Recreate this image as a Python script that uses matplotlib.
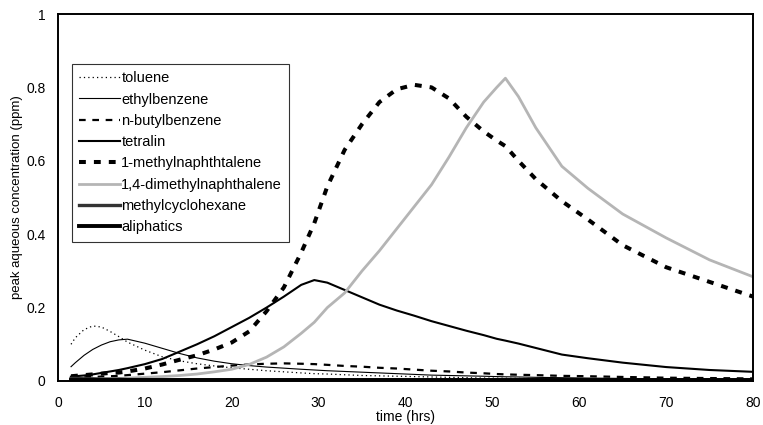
import matplotlib
matplotlib.use("Agg")
import matplotlib.pyplot as plt

plt.rcParams['font.family'] = ['Liberation Sans', 'DejaVu Sans']

time_hrs = [1.5, 2, 3, 4, 5, 6, 7, 8, 10, 12, 14, 16, 18, 20, 22, 24, 26, 28, 29.5, 31,
            33, 35, 37, 39, 41, 43, 45, 47, 49, 50.5, 51.5, 53, 55, 58, 61, 65, 70, 75, 80]

toluene = [0.100, 0.118, 0.140, 0.150, 0.147, 0.135, 0.121, 0.106, 0.084, 0.066,
           0.055, 0.047, 0.041, 0.036, 0.032, 0.028, 0.025, 0.022, 0.020, 0.019,
           0.017, 0.015, 0.014, 0.013, 0.012, 0.011, 0.010, 0.009, 0.008, 0.0078,
           0.0075, 0.007, 0.0065, 0.006, 0.0055, 0.005, 0.0045, 0.004, 0.0035]
ethylbenzene = [0.039, 0.050, 0.070, 0.086, 0.098, 0.107, 0.112, 0.114, 0.103, 0.089,
                0.075, 0.063, 0.054, 0.047, 0.042, 0.038, 0.035, 0.032, 0.030, 0.028,
                0.026, 0.024, 0.022, 0.020, 0.018, 0.016, 0.015, 0.014, 0.013, 0.012,
                0.0115, 0.011, 0.010, 0.009, 0.008, 0.007, 0.006, 0.005, 0.0045]
n_butylbenzene = [0.008, 0.009, 0.010, 0.011, 0.012, 0.013, 0.014, 0.016, 0.020, 0.024,
                  0.029, 0.034, 0.038, 0.042, 0.045, 0.047, 0.048, 0.047, 0.046, 0.044,
                  0.041, 0.039, 0.036, 0.034, 0.031, 0.028, 0.026, 0.023, 0.021, 0.019,
                  0.018, 0.017, 0.016, 0.014, 0.013, 0.011, 0.009, 0.008, 0.007]
tetralin = [0.012, 0.013, 0.015, 0.018, 0.022, 0.026, 0.030, 0.035, 0.046, 0.060,
            0.080, 0.100, 0.122, 0.147, 0.172, 0.200, 0.230, 0.262, 0.275, 0.268,
            0.248, 0.228, 0.208, 0.192, 0.178, 0.163, 0.150, 0.137, 0.125, 0.115,
            0.110, 0.102, 0.090, 0.072, 0.062, 0.050, 0.038, 0.030, 0.025]
methylnaphthalene = [0.013, 0.014, 0.016, 0.018, 0.020, 0.022, 0.023, 0.026, 0.034, 0.045,
                     0.058, 0.070, 0.086, 0.105, 0.135, 0.190, 0.255, 0.350, 0.430, 0.530,
                     0.630, 0.700, 0.760, 0.795, 0.807, 0.800, 0.770, 0.720, 0.680, 0.655,
                     0.640, 0.600, 0.550, 0.490, 0.440, 0.370, 0.310, 0.270, 0.230]
dimethylnaphthalene = [0.004, 0.004, 0.005, 0.005, 0.006, 0.006, 0.007, 0.008, 0.010, 0.012,
                       0.015, 0.019, 0.025, 0.032, 0.045, 0.065, 0.093, 0.130, 0.160, 0.200,
                       0.240, 0.300, 0.355, 0.415, 0.475, 0.535, 0.610, 0.690, 0.760, 0.800,
                       0.825, 0.775, 0.690, 0.585, 0.525, 0.455, 0.390, 0.330, 0.284]
methylcyclohexane = [0.007, 0.007, 0.006, 0.006, 0.005, 0.005, 0.005, 0.004, 0.004, 0.003,
                     0.003, 0.003, 0.003, 0.003, 0.003, 0.003, 0.003, 0.003, 0.003, 0.003,
                     0.003, 0.003, 0.003, 0.003, 0.003, 0.003, 0.003, 0.003, 0.003, 0.003,
                     0.003, 0.003, 0.003, 0.003, 0.003, 0.003, 0.003, 0.003, 0.003]
aliphatics = [0.002] * len(time_hrs)

x_ticks = [0, 10, 20, 30, 40, 50, 60, 70, 80]
y_ticks = [0, 0.2, 0.4, 0.6, 0.8, 1]
y_tick_labels = ["0", "0.2", "0.4", "0.6", "0.8", "1"]

fig = plt.figure(figsize=(7.63, 4.25), dpi=100)
ax = fig.add_axes([58 / 763, 1 - 381 / 425, 695 / 763, 367 / 425])

ax.plot(time_hrs, toluene, color='black', lw=0.9, linestyle=(0, (1, 2.5)), label='toluene')
ax.plot(time_hrs, ethylbenzene, color='black', lw=0.8, label='ethylbenzene')
ax.plot(time_hrs, n_butylbenzene, color='black', lw=1.6, linestyle=(0, (3, 3)), label='n-butylbenzene')
ax.plot(time_hrs, tetralin, color='black', lw=1.5, label='tetralin')
ax.plot(time_hrs, methylnaphthalene, color='black', lw=2.9, linestyle=(0, (1.7, 2.0)),
        label='1-methylnaphthtalene')
ax.plot(time_hrs, dimethylnaphthalene, color='#b5b5b5', lw=2.0, label='1,4-dimethylnaphthalene')
ax.plot(time_hrs, methylcyclohexane, color='#333333', lw=2.4, label='methylcyclohexane')
ax.plot(time_hrs, aliphatics, color='black', lw=2.8, label='aliphatics')

ax.set_xlim(0, 80)
ax.set_ylim(0, 1)
ax.set_xticks(x_ticks)
ax.set_yticks(y_ticks)
ax.set_yticklabels(y_tick_labels)
ax.tick_params(length=0, labelsize=10)
ax.tick_params(axis='x', pad=11)
ax.tick_params(axis='y', pad=9)
for s in ax.spines.values():
    s.set_linewidth(1.4)

ax.set_xlabel('time (hrs)', fontsize=10, labelpad=0)
ax.set_ylabel('peak aqueous concentration (ppm)', fontsize=9.5, labelpad=2)

leg = ax.legend(loc='upper left', bbox_to_anchor=(14 / 695, 317 / 367), borderaxespad=0,
                fontsize=10.5, handlelength=2.8, handletextpad=0.08, labelspacing=0.5,
                frameon=True, fancybox=False, borderpad=0.5)
leg.get_frame().set_edgecolor('black')
leg.get_frame().set_linewidth(0.8)

fig.savefig('out.png', dpi=100)
